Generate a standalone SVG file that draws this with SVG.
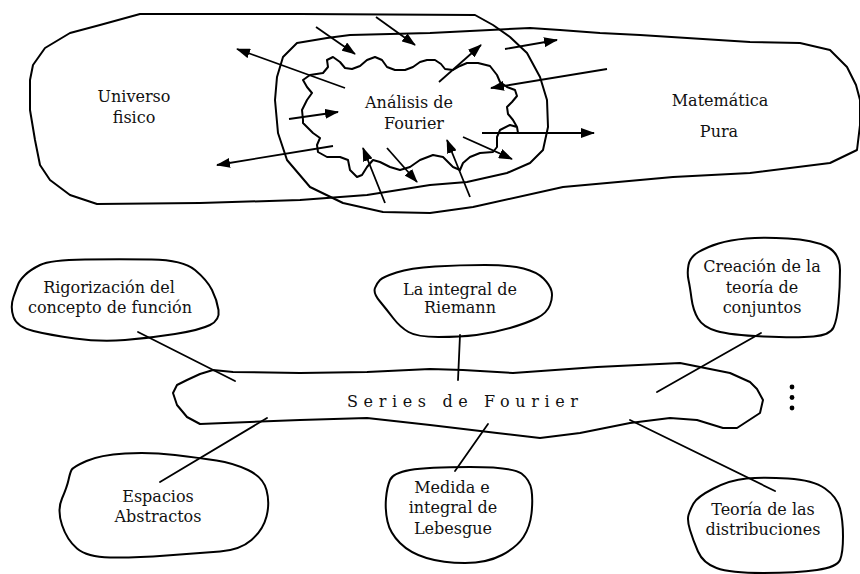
<svg xmlns="http://www.w3.org/2000/svg" width="860" height="574" viewBox="0 0 860 574">
<defs>
<marker id="ah" viewBox="0 0 14 10" refX="13" refY="5" markerWidth="14" markerHeight="10" markerUnits="userSpaceOnUse" orient="auto"><path d="M0,0 L14,5 L0,10 z" fill="#000"/></marker>
<style>
.b{fill:none;stroke:#000;stroke-width:2;stroke-linejoin:round;stroke-linecap:round}
.c{fill:none;stroke:#000;stroke-width:1.8;stroke-linecap:round}
.a{fill:none;stroke:#000;stroke-width:1.8;marker-end:url(#ah)}
text{font-family:"DejaVu Serif","Liberation Serif",serif;font-size:16px;fill:#111;text-anchor:middle}
</style>
</defs>
<rect width="860" height="574" fill="#fff"/>

<g id="universo">
<path class="b" d="M140,14 L300,14 L475,15 L493,25 L510,37 L527,53 L540,77 L547,100 L548,127 L543,150 L530,163 L507,173 L467,182 L430,185 L367,195 L300,200 L200,203 L97,204 L70,195 L50,180 L40,165 L35,140 L30,110 L30,80 L33,65 L45,48 L70,33 L100,25 Z"/>
<text x="134" y="102">Universo</text>
<text x="134" y="123">fisico</text>
</g>

<g id="matematica">
<path class="b" d="M327,38 L350,35 L430,33 L530,28 L560,30 L600,33 L640,35 L750,42 L800,43 L830,50 L847,67 L856,85 L860,100 L860,125 L857,150 L830,163 L750,173 L673,177 L563,187 L473,207 L430,213 L383,212 L343,203 L310,187 L287,160 L278,133 L275,100 L277,77 L283,57 L297,43 Z"/>
<text x="720" y="106">Matemática</text>
<text x="719" y="137">Pura</text>
</g>

<g id="analisis">
<path class="b" d="M327,60 L333,57 L340,62 L345,68 L352,69 L360,66 L367,60 L375,57 L382,60 L387,67 L395,70 L405,70 L413,67 L420,62 L427,60 L435,60 L441,64 L445,69 L453,70 L460,66 L467,63 L478,63 L490,66 L497,75 L500,82 L507,87 L515,90 L517,96 L512,102 L507,107 L508,114 L513,120 L517,127 L518,133 L517,127 L510,125 L500,130 L497,137 L497,147 L493,152 L480,153 L470,157 L463,163 L460,170 L453,167 L443,157 L433,155 L420,160 L410,167 L400,170 L390,167 L380,162 L373,160 L367,167 L362,175 L357,177 L350,170 L348,160 L340,157 L327,157 L318,152 L317,145 L320,138 L313,133 L303,123 L303,120 L302,110 L307,100 L312,93 L307,87 L303,80 L310,75 L323,73 L328,67 Z"/>
<text x="409" y="108">Análisis de</text>
<text x="414" y="129">Fourier</text>
</g>

<g id="arrows-top">
<line class="a" x1="345" y1="88" x2="237" y2="49"/>
<line class="a" x1="316" y1="27" x2="355" y2="54"/>
<line class="a" x1="376" y1="17" x2="415" y2="45"/>
<line class="a" x1="289" y1="119" x2="338" y2="112"/>
<line class="a" x1="333" y1="146" x2="217" y2="165"/>
<line class="a" x1="385" y1="203" x2="363" y2="148"/>
<line class="a" x1="387" y1="148" x2="417" y2="182"/>
<line class="a" x1="439" y1="82" x2="481" y2="45"/>
<line class="a" x1="505" y1="49" x2="557" y2="40"/>
<line class="a" x1="607" y1="69" x2="491" y2="88"/>
<line class="a" x1="482" y1="133" x2="594" y2="133"/>
<line class="a" x1="463" y1="137" x2="512" y2="159"/>
<line class="a" x1="470" y1="197" x2="447" y2="140"/>
</g>

<g id="series">
<path class="b" d="M173,393 L177,385 L187,380 L200,374 L213,370 L233,372 L300,373 L367,372 L430,369 L463,370 L513,373 L597,367 L680,363 L730,373 L750,382 L757,389 L763,400 L760,413 L737,428 L723,428 L697,420 L670,418 L630,423 L580,433 L540,438 L497,433 L430,425 L367,418 L300,420 L200,424 L187,417 L177,405 Z"/>
<text x="347" y="407" style="text-anchor:start" textLength="231" lengthAdjust="spacing">Series de Fourier</text>
</g>

<g id="connectors">
<line class="c" x1="138" y1="332" x2="235" y2="381"/>
<line class="c" x1="460" y1="335" x2="458" y2="380"/>
<line class="c" x1="761" y1="333" x2="657" y2="392"/>
<line class="c" x1="160" y1="482" x2="267" y2="418"/>
<line class="c" x1="455" y1="471" x2="488" y2="424"/>
<line class="c" x1="630" y1="420" x2="775" y2="491"/>
</g>

<g id="rigorizacion">
<path class="b" d="M25,275 Q30,270 40,265 Q50,260 85,259.5 Q120,259 151.5,259.5 Q183,260 195,270 Q207,280 212,290 Q217,300 218.5,310 Q220,320 210,325 Q200,330 175,334 Q150,338 125,340 Q100,342 75,338.5 Q50,335 33.5,331 Q17,327 13.5,317 Q10,307 13.5,297 Q17,287 18.5,283.5 Q20,280 25,275 Z"/>
<text x="109" y="293">Rigorización del</text>
<text x="110" y="313">concepto de función</text>
</g>

<g id="riemann">
<path class="b" d="M380,280 Q383,277 396.5,272.5 Q410,268 435,266.5 Q460,265 485,265 Q510,265 523.5,268.5 Q537,272 543.5,278.5 Q550,285 551.5,291 Q553,297 550,305 Q547,313 537,318 Q527,323 510,328 Q493,333 476.5,335 Q460,337 438.5,337 Q417,337 408.5,332 Q400,327 393.5,318.5 Q387,310 380,301.5 Q373,293 375,288 Q377,283 380,280 Z"/>
<text x="460" y="295">La integral de</text>
<text x="460" y="313">Riemann</text>
</g>

<g id="conjuntos">
<path class="b" d="M688.5,265 Q690,257 698.5,252 Q707,247 718.5,243.5 Q730,240 746.5,238.5 Q763,237 788,238.5 Q813,240 826.5,246.5 Q840,253 840,270 Q840,287 838.5,303.5 Q837,320 833.5,327.5 Q830,335 813.5,336.5 Q797,338 763.5,336.5 Q730,335 716.5,331 Q703,327 698,318.5 Q693,310 691.5,298.5 Q690,287 688.5,280 Q687,273 688.5,265 Z"/>
<text x="762" y="272">Creación de la</text>
<text x="762" y="293">teoría de</text>
<text x="762" y="313">conjuntos</text>
</g>

<g id="espacios">
<path class="b" d="M71.5,470 Q73,467 86.5,461 Q100,455 125,453.5 Q150,452 175,455 Q200,458 216.5,460.5 Q233,463 248,470 Q263,477 266.5,490 Q270,503 266.5,516.5 Q263,530 251.5,540 Q240,550 220,551.5 Q200,553 166.5,555.5 Q133,558 110,557.5 Q87,557 77,548.5 Q67,540 62,525 Q57,510 62,498.5 Q67,487 68.5,480 Q70,473 71.5,470 Z"/>
<text x="158" y="502">Espacios</text>
<text x="158" y="522">Abstractos</text>
</g>

<g id="lebesgue">
<path class="b" d="M390,480 Q393,473 410,470 Q427,467 470,467 Q513,467 521.5,473.5 Q530,480 531.5,490 Q533,500 531.5,513.5 Q530,527 523.5,537 Q517,547 502,555 Q487,563 465,563 Q443,563 426.5,558 Q410,553 400,543 Q390,533 387.5,521.5 Q385,510 386,498.5 Q387,487 390,480 Z"/>
<text x="452" y="493">Medida e</text>
<text x="453" y="513">integral de</text>
<text x="453" y="534">Lebesgue</text>
</g>

<g id="distribuciones">
<path class="b" d="M693.5,503.5 Q697,497 713.5,488.5 Q730,480 746.5,478.5 Q763,477 788,478.5 Q813,480 825,488.5 Q837,497 840,508.5 Q843,520 843,536.5 Q843,553 840,560 Q837,567 817,570 Q797,573 763.5,573 Q730,573 716.5,568 Q703,563 698,551.5 Q693,540 690,530 Q687,520 688.5,515 Q690,510 693.5,503.5 Z"/>
<text x="763" y="515">Teoría de las</text>
<text x="763" y="535">distribuciones</text>
</g>

<g id="dots">
<circle cx="792" cy="387" r="2.4"/>
<circle cx="792" cy="397.5" r="2.4"/>
<circle cx="792" cy="408" r="2.4"/>
</g>
</svg>
